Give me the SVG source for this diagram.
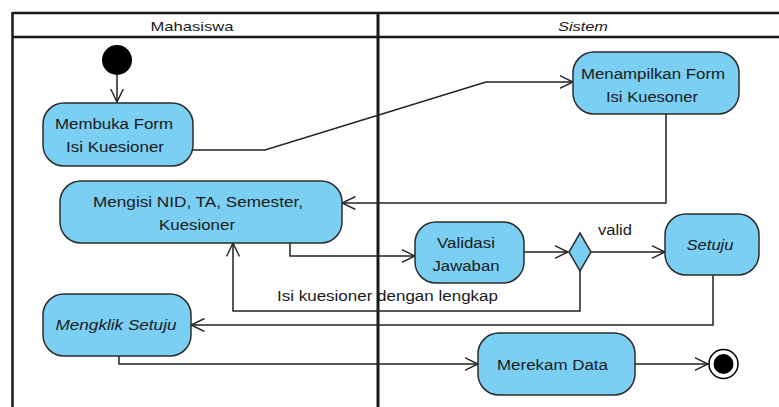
<svg xmlns="http://www.w3.org/2000/svg" width="779" height="407" viewBox="0 0 779 407">
<defs>
<style>
.node{fill:#7acff3;stroke:#2b2b2b;stroke-width:1.5}
.t{font-family:"Liberation Sans",Arial,sans-serif;font-size:15.5px;fill:#1a1a1a;text-anchor:middle}
.i{font-style:italic}
.h{font-family:"Liberation Sans",Arial,sans-serif;font-size:13px;fill:#1a1a1a;text-anchor:middle}
.c{fill:none;stroke:#222;stroke-width:1.5}
.frame{fill:none;stroke:#1a1a1a;stroke-width:2.5}
</style>
<marker id="arr" viewBox="0 0 14 14" refX="13.5" refY="7" markerWidth="14" markerHeight="14" markerUnits="userSpaceOnUse" orient="auto">
<path d="M0,0.5 L13.5,7 L0,13.5" fill="none" stroke="#222" stroke-width="1.4"/>
</marker>
</defs>
<rect width="779" height="407" fill="#fff"/>
<g id="lanes">
<line class="frame" x1="12.5" y1="13" x2="779" y2="13"/>
<line class="frame" x1="12.5" y1="37" x2="779" y2="37"/>
<line class="frame" x1="12.5" y1="12" x2="12.5" y2="407"/>
<line x1="378" y1="12" x2="378" y2="407" stroke="#1a1a1a" stroke-width="3"/>
<text class="h" x="192" y="31" textLength="83" lengthAdjust="spacingAndGlyphs">Mahasiswa</text>
<text class="h i" x="583" y="31" textLength="50" lengthAdjust="spacingAndGlyphs">Sistem</text>
</g>
<g id="connectors">
<path class="c" d="M117,75 L117,102" marker-end="url(#arr)"/>
<path class="c" d="M193,150 L265,150 L486,82 L573,82" marker-end="url(#arr)"/>
<path class="c" d="M666,114 L666,203 L342,203" marker-end="url(#arr)"/>
<path class="c" d="M290,243 L290,256 L415,256" marker-end="url(#arr)"/>
<path class="c" d="M524,252 L568,252" marker-end="url(#arr)"/>
<path class="c" d="M591,252 L665,252" marker-end="url(#arr)"/>
<path class="c" d="M580,271 L580,311 L233,311 L233,243" marker-end="url(#arr)"/>
<path class="c" d="M713,275 L713,325 L191,325" marker-end="url(#arr)"/>
<path class="c" d="M119,356 L119,364 L478,364" marker-end="url(#arr)"/>
<path class="c" d="M635,364 L708,364" marker-end="url(#arr)"/>
<text class="t" x="615" y="235" textLength="34" lengthAdjust="spacingAndGlyphs">valid</text>
<text class="t" x="387.5" y="301" textLength="221" lengthAdjust="spacingAndGlyphs">Isi kuesioner dengan lengkap</text>
</g>
<g id="start">
<circle cx="117" cy="60" r="15" fill="#000"/>
</g>
<g id="membuka">
<rect class="node" x="43" y="103" width="150" height="63" rx="21"/>
<text class="t" x="114" y="129" textLength="118" lengthAdjust="spacingAndGlyphs">Membuka Form</text>
<text class="t" x="115" y="152" textLength="98" lengthAdjust="spacingAndGlyphs">Isi Kuesioner</text>
</g>
<g id="menampilkan">
<rect class="node" x="573" y="52" width="166" height="62" rx="21"/>
<text class="t" x="653" y="79" textLength="144" lengthAdjust="spacingAndGlyphs">Menampilkan Form</text>
<text class="t" x="652" y="102" textLength="92" lengthAdjust="spacingAndGlyphs">Isi Kuesoner</text>
</g>
<g id="mengisi">
<rect class="node" x="60" y="181" width="282" height="62" rx="21"/>
<text class="t" x="198" y="207" textLength="210" lengthAdjust="spacingAndGlyphs">Mengisi NID, TA, Semester,</text>
<text class="t" x="197" y="230" textLength="76" lengthAdjust="spacingAndGlyphs">Kuesioner</text>
</g>
<g id="validasi">
<rect class="node" x="415" y="222" width="109" height="61" rx="21"/>
<text class="t" x="466" y="248" textLength="58" lengthAdjust="spacingAndGlyphs">Validasi</text>
<text class="t" x="466" y="271" textLength="67" lengthAdjust="spacingAndGlyphs">Jawaban</text>
</g>
<g id="decision">
<polygon class="node" points="580,233 591,252 580,271 569,252"/>
</g>
<g id="setuju">
<rect class="node" x="665" y="214" width="94" height="61" rx="21"/>
<text class="t i" x="710" y="250" textLength="47" lengthAdjust="spacingAndGlyphs">Setuju</text>
</g>
<g id="mengklik">
<rect class="node" x="43" y="294" width="148" height="62" rx="21"/>
<text class="t i" x="116" y="330" textLength="121" lengthAdjust="spacingAndGlyphs">Mengklik Setuju</text>
</g>
<g id="merekam">
<rect class="node" x="478" y="333" width="157" height="62" rx="21"/>
<text class="t" x="552.5" y="370" textLength="111" lengthAdjust="spacingAndGlyphs">Merekam Data</text>
</g>
<g id="end">
<circle cx="723.5" cy="364" r="14.5" fill="#fff" stroke="#000" stroke-width="1.5"/>
<circle cx="723.5" cy="364" r="10" fill="#000"/>
</g>
</svg>
